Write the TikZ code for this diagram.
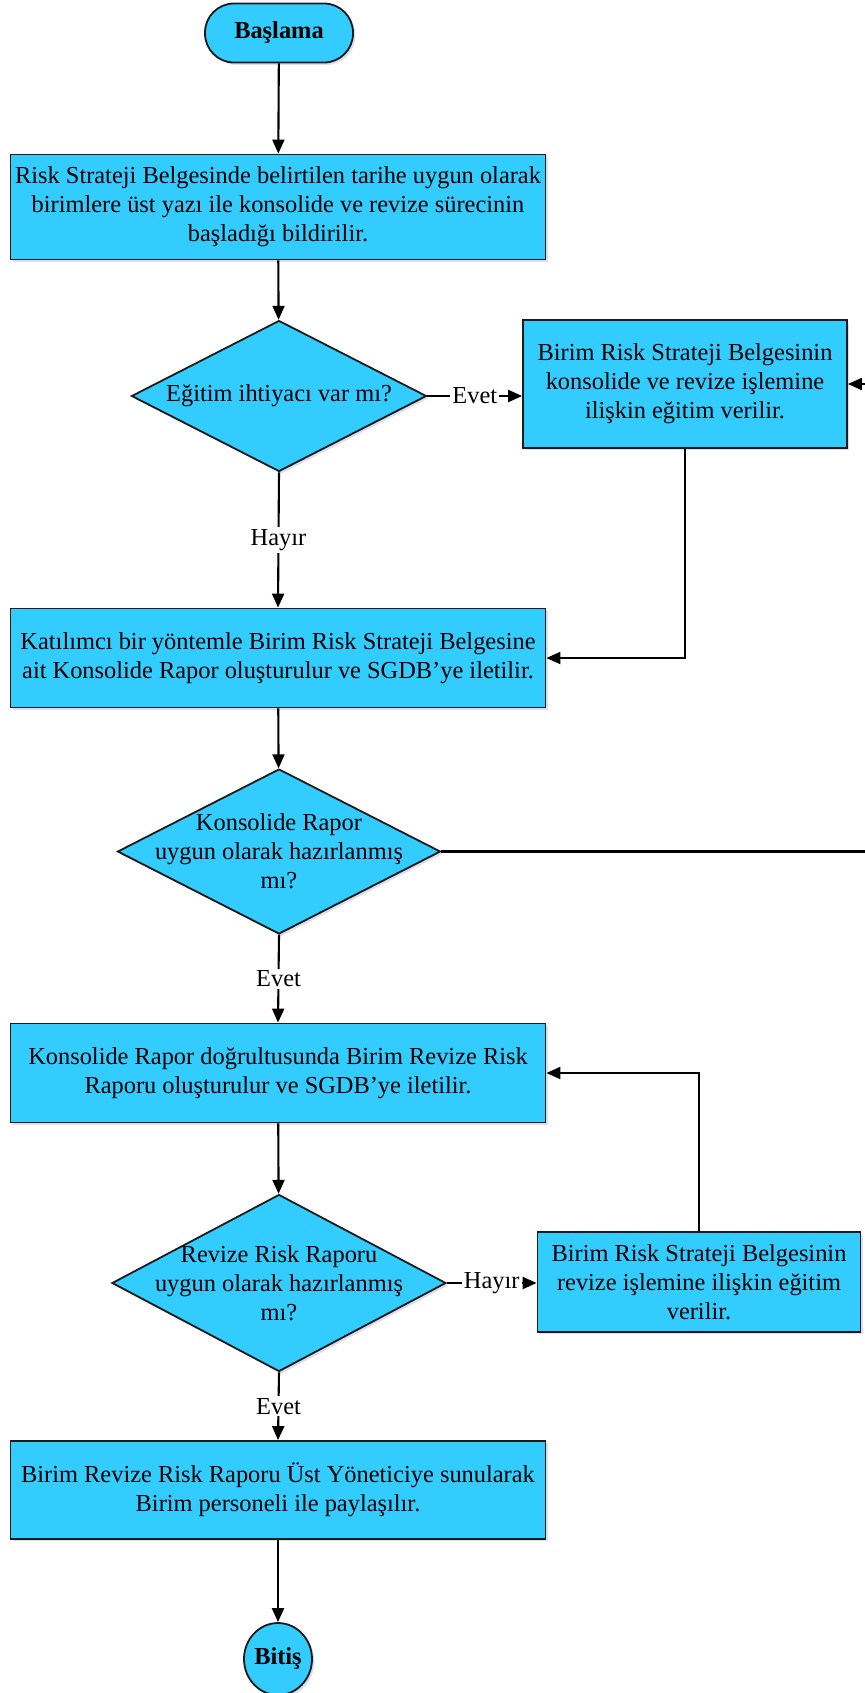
\documentclass[tikz,border=0pt]{standalone}
\usepackage{fontspec}
\setmainfont{Liberation Serif}
\usetikzlibrary{shapes.geometric,arrows.meta,shadows}
\definecolor{boxblue}{HTML}{33CCFF}
\definecolor{edgecol}{HTML}{1A1A1A}
\begin{document}
\begin{tikzpicture}[x=0.5pt,y=-0.5pt,
  font=\fontsize{12.2pt}{14.5pt}\selectfont,
  base/.style={draw=edgecol, line width=0.9pt, fill=boxblue,
    drop shadow={shadow xshift=1.2pt, shadow yshift=-1.2pt, fill=blue!35!gray, opacity=0.2}},
  procbox/.style={base, rectangle, align=center, inner sep=2pt},
  decision/.style={base, diamond, inner sep=0pt},
  dtext/.style={align=center, inner sep=0pt},
  terminal/.style={base, rounded corners=14.5pt, font=\fontsize{12.2pt}{14.5pt}\selectfont\bfseries},
  conn/.style={line width=1.05pt, -{Triangle[length=7pt,width=6pt]}},
  lbl/.style={fill=white, inner sep=1pt}]
\useasboundingbox (0,0) rectangle (865,1693);
\coordinate (loop) at (885,0);

\node[terminal, minimum width=74pt, minimum height=29.5pt] (start) at (279,33) {Başlama};
\node[procbox, minimum width=267.5pt, minimum height=52.5pt] (b1) at (278,207)
  {Risk Strateji Belgesinde belirtilen tarihe uygun olarak\\birimlere üst yazı ile konsolide ve revize sürecinin\\başladığı bildirilir.};
\node[decision, minimum width=147.5pt, minimum height=75.5pt] (d1) at (279,396) {};
\node[dtext] (d1t) at (d1.center) {Eğitim ihtiyacı var mı?};
\node[procbox, minimum width=162pt, minimum height=63.75pt] (r1) at (685,384)
  {Birim Risk Strateji Belgesinin\\konsolide ve revize işlemine\\ilişkin eğitim verilir.};
\node[procbox, minimum width=267.5pt, minimum height=49.5pt] (b2) at (278,658)
  {Katılımcı bir yöntemle Birim Risk Strateji Belgesine\\ait Konsolide Rapor oluşturulur ve SGDB’ye iletilir.};
\node[decision, minimum width=161.5pt, minimum height=82.5pt] (d2) at (279,851.5) {};
\node[dtext] (d2t) at (d2.center) {Konsolide Rapor\\uygun olarak hazırlanmış\\mı?};
\node[procbox, minimum width=267.5pt, minimum height=49.5pt] (b3) at (278,1073)
  {Konsolide Rapor doğrultusunda Birim Revize Risk\\Raporu oluşturulur ve SGDB’ye iletilir.};
\node[decision, minimum width=167pt, minimum height=88.5pt] (d3) at (279,1283) {};
\node[dtext] (d3t) at (d3.center) {Revize Risk Raporu\\uygun olarak hazırlanmış\\mı?};
\node[procbox, minimum width=161.5pt, minimum height=49.75pt] (r2) at (699,1282)
  {Birim Risk Strateji Belgesinin\\revize işlemine ilişkin eğitim\\verilir.};
\node[procbox, minimum width=267.5pt, minimum height=49pt] (b4) at (278,1490)
  {Birim Revize Risk Raporu Üst Yöneticiye sunularak\\Birim personeli ile paylaşılır.};
\node[base, ellipse, minimum width=34pt, minimum height=36pt, inner sep=0pt,
  font=\fontsize{12.2pt}{14.5pt}\selectfont\bfseries] (end) at (278,1659) {Bitiş};

\draw[conn] (start) -- (b1);
\draw[conn] (b1) -- (d1);
\draw[conn] (d1.east) -- node[lbl] (evet1) {Evet} (d1.east -| r1.west);
\draw[conn] (d1.south) -- node[lbl] (hayir1) {Hayır} (b2.north);
\draw[conn] (r1.south) |- (b2.east);
\draw[conn] (b2) -- (d2);
\draw[conn] (d2.east) -- (d2.east -| loop) |- (r1.east);
\draw[conn] (d2.south) -- node[lbl] (evet2) {Evet} (b3.north);
\draw[conn] (b3) -- (d3);
\draw[conn] (d3.east) -- node[lbl] (hayir2) {Hayır} (r2.west |- d3.east);
\draw[conn] (r2.north) |- (b3.east);
\draw[conn] (d3.south) -- node[lbl] (evet3) {Evet} (b4.north);
\draw[conn] (b4) -- (end);
\end{tikzpicture}
\end{document}
